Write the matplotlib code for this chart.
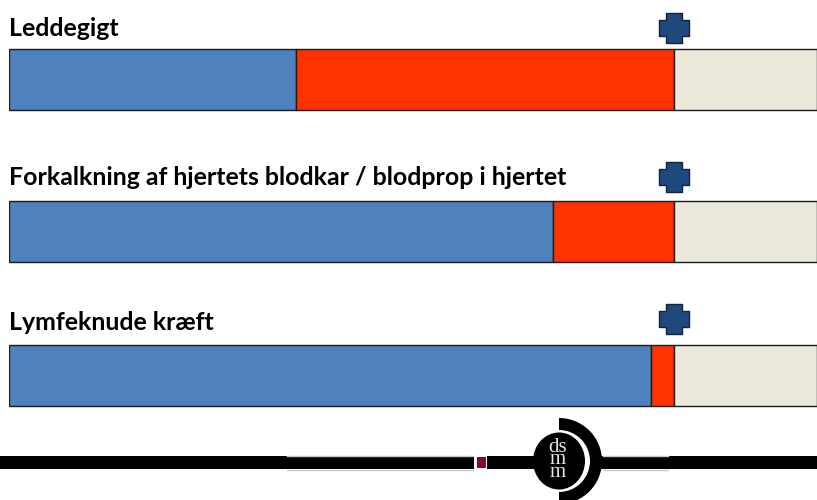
import matplotlib
matplotlib.use("Agg")
import matplotlib.pyplot as plt
from matplotlib.patches import Wedge, Rectangle, Ellipse
from matplotlib.path import Path

# labels and share of each bar in percent
diseases = ["Leddegigt", "Forkalkning af hjertets blodkar / blodprop i hjertet", "Lymfeknude kræft"]
blue_vals = [35.5, 67.4, 79.5]
red_vals = [46.8, 14.9, 2.8]
rest_vals = [17.7, 17.7, 17.7]
cross_vals = [82.3, 82.3, 82.3]

bar_y = [79.5, 231, 375]
label_y = [36, 185, 330]
cross_y = [28, 177, 319]

W, H = 817, 500
fig = plt.figure(figsize=(W / 100, H / 100), dpi=100)

# bars: x in percent, y in pixels from the top
ax = fig.add_axes([8.5 / W, 0, 808.5 / W, 1])
ax.set_xlim(0, 100)
ax.set_ylim(H, 0)
ax.axis("off")

edge = "#1c1c1c"
ax.barh(bar_y, blue_vals, height=61, color="#4f81bd", edgecolor=edge, linewidth=1)
ax.barh(bar_y, red_vals, left=blue_vals, height=61, color="#ff3300", edgecolor=edge, linewidth=1)
lefts = [b + r for b, r in zip(blue_vals, red_vals)]
ax.barh(bar_y, rest_vals, left=lefts, height=61, color="#ebe8dc", edgecolor=edge, linewidth=1)

# plus shaped marker
a, b = 1.0, 0.5
plus = Path([(-b, -a), (b, -a), (b, -b), (a, -b), (a, b), (b, b), (b, a), (-b, a),
             (-b, b), (-a, b), (-a, -b), (-b, -b), (-b, -a)], closed=True)
ax.scatter(cross_vals, cross_y, marker=plus, s=480, color="#1f497d", edgecolor="#10253f",
           linewidth=1, zorder=5)

for name, y in zip(diseases, label_y):
    ax.text(0.05, y, name, family="Lato", weight="bold", fontsize=17.95, color="black",
            ha="left", va="baseline")

# footer logo, in pixels
lg = fig.add_axes([0, 0, 1, 1])
lg.set_xlim(0, W)
lg.set_ylim(H, 0)
lg.axis("off")
lg.patch.set_alpha(0)
lg.add_patch(Rectangle((0, 456), W, 13, color="black", lw=0))
lg.plot([287, 473], [455.5, 455.5], color="#c8c8c8", lw=1)
lg.plot([287, 473], [469.5, 469.5], color="#c8c8c8", lw=1)
lg.plot([603, 668], [455.5, 455.5], color="#c8c8c8", lw=1)
lg.plot([603, 668], [469.5, 469.5], color="#c8c8c8", lw=1)
lg.add_patch(Rectangle((474, 455), 13, 15, color="white", lw=0))
lg.add_patch(Rectangle((477, 457), 9, 11, color="#7f0a2a", lw=0))
lg.add_patch(Wedge((559, 461), 43, -90, 90, color="black", lw=0))
lg.add_patch(Wedge((559, 461), 31, -90, 90, color="white", lw=0))
lg.add_patch(Ellipse((559, 461), 52, 57, color="black", lw=0))
lg.text(558, 460, "ds\nm\nm", family="Liberation Serif", fontsize=15, color="#e4e4e4",
        ha="center", va="center", linespacing=0.52)

fig.savefig("out.png", dpi=100)
